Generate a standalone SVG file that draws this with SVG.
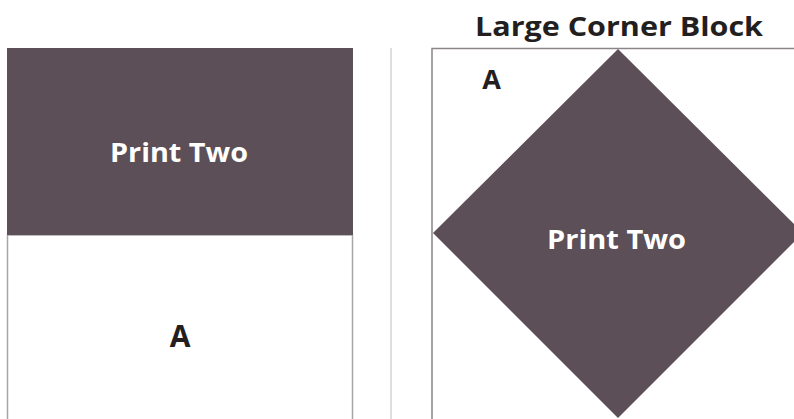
<svg xmlns="http://www.w3.org/2000/svg" width="794" height="419" viewBox="0 0 794 419">
<style>
.dark{fill:#5c4f57}
.edge{fill:none;stroke:#a7a5a6;stroke-width:1.5}
.lbl{font-family:"Open Sans",Lato,"Liberation Sans",sans-serif;font-weight:700;text-anchor:middle}
.w{fill:#ffffff}
.k{fill:#231f20}
</style>
<rect width="794" height="419" fill="#ffffff"/>
<g id="left-block">
  <rect x="7.5" y="235" width="345" height="190" fill="#ffffff" class="edge"/>
  <rect x="7" y="48" width="346" height="187" class="dark"/>
  <text x="179" y="162" class="lbl w" font-size="27" textLength="138" lengthAdjust="spacingAndGlyphs">Print Two</text>
  <text x="180" y="347" class="lbl k" font-size="30">A</text>
</g>
<line x1="391" y1="48" x2="391" y2="419" stroke="#d4d3d3" stroke-width="1.5"/>
<g id="right-block">
  <text x="619" y="36" class="lbl k" font-size="27" textLength="288" lengthAdjust="spacingAndGlyphs">Large Corner Block</text>
  <rect x="432" y="48.5" width="370" height="380" fill="#ffffff" stroke="#8a8588" stroke-width="1.5"/>
  <polygon points="618,49 803,233 618,418 433,233" class="dark"/>
  <text x="491.5" y="89" class="lbl k" font-size="27">A</text>
  <text x="616.5" y="249" class="lbl w" font-size="27" textLength="139" lengthAdjust="spacingAndGlyphs">Print Two</text>
</g>
</svg>
